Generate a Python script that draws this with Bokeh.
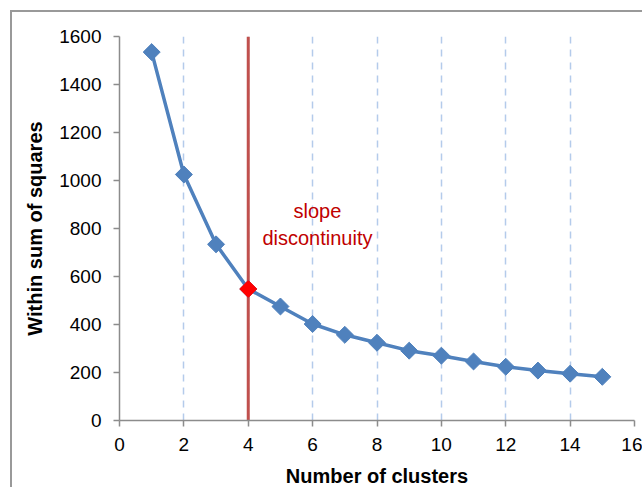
import math
from bokeh.plotting import figure
from bokeh.models import Range1d, SingleIntervalTicker
from bokeh.core.properties import value
from bokeh.embed import file_html
from bokeh.resources import INLINE

# Data
clusters = [1, 2, 3, 4, 5, 6, 7, 8, 9, 10, 11, 12, 13, 14, 15]
wss = [1535, 1025, 734, 548, 475, 402, 357, 324, 291, 270, 246, 224, 208, 195, 182]
elbow_k = [4]
elbow_wss = [548]
annotation_x = [6.15]
annotation_y = [817]
annotation_text = ["slope\ndiscontinuity"]

FONT = "Liberation Sans"

p = figure(width=632, height=477, output_backend="svg", toolbar_location=None,
           x_range=Range1d(0, 16), y_range=Range1d(0, 1600),
           min_border_left=107, min_border_right=10, min_border_top=24, min_border_bottom=67)
p.styles = {"border-top": "2px solid #999999", "border-left": "2px solid #999999",
            "margin-left": "10px", "margin-top": "10px"}
p.outline_line_color = None
p.background_fill_color = "white"
p.border_fill_color = "white"

# axes
p.xaxis.ticker = SingleIntervalTicker(interval=2, num_minor_ticks=0)
p.yaxis.ticker = SingleIntervalTicker(interval=200, num_minor_ticks=0)
for ax in (p.xaxis[0], p.yaxis[0]):
    ax.axis_line_color = "#8c8c8c"
    ax.axis_line_width = 1.5
    ax.major_tick_line_color = "#8c8c8c"
    ax.major_tick_line_width = 1.5
    ax.major_tick_out = 6
    ax.major_tick_in = 0
    ax.minor_tick_line_color = None
    ax.major_label_text_font = FONT
    ax.major_label_text_font_size = "19px"
    ax.major_label_text_color = "black"
    ax.axis_label_text_font = FONT
    ax.axis_label_text_font_size = "20px"
    ax.axis_label_text_font_style = "bold"
    ax.axis_label_text_color = "black"
p.xaxis.axis_label = "Number of clusters"
p.yaxis.axis_label = "Within sum of squares"
p.xaxis.major_label_standoff = 11
p.yaxis.major_label_standoff = 12
p.xaxis.axis_label_standoff = 11
p.yaxis.axis_label_standoff = 10

# grids
p.ygrid.grid_line_color = None
p.xgrid.grid_line_color = "#b4cbeb"
p.xgrid.grid_line_width = 1.5
p.xgrid.grid_line_dash = "7 6"

# red vertical line at the elbow
p.segment(x0=elbow_k, y0=[0], x1=elbow_k, y1=[1600], line_color="#c0504d", line_width=3)

# series
p.line(clusters, wss, line_color="#4f81bd", line_width=3.5)
p.scatter(clusters, wss, marker="square", angle=math.pi / 4, size=12,
          fill_color="#4f81bd", line_color="#4f81bd")
p.scatter(elbow_k, elbow_wss, marker="square", angle=math.pi / 4, size=12,
          fill_color="#ff0000", line_color="#ff0000")

p.text(x=annotation_x, y=annotation_y, text=annotation_text, text_align="center",
       text_baseline="middle", text_color="#c00000", text_font=value(FONT),
       text_font_size="20px", text_line_height=1.2)

open("out.html", "w").write(file_html(p, INLINE))
